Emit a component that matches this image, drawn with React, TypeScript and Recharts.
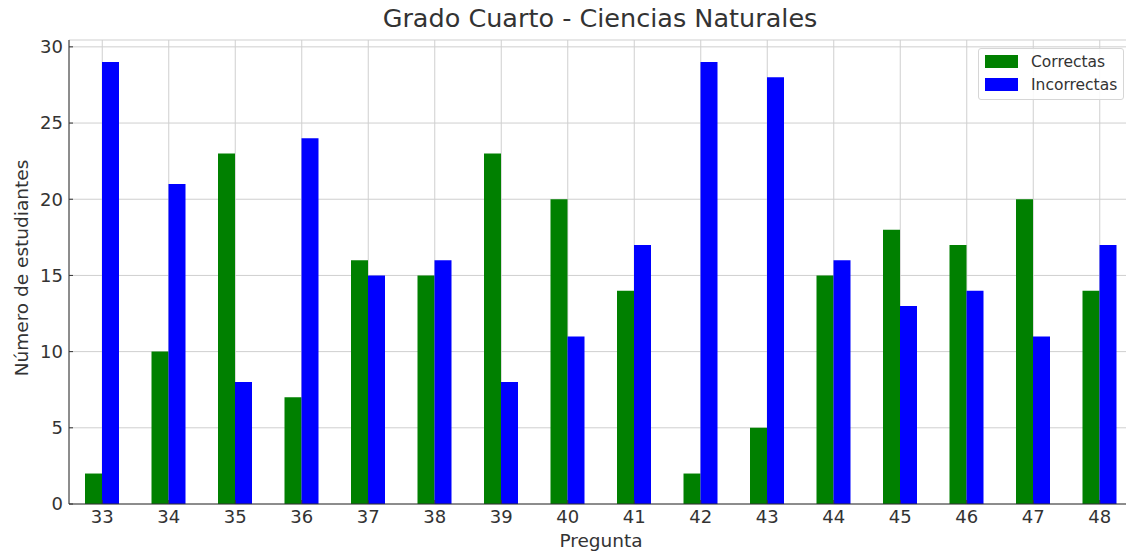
import React from "react";
import {
  BarChart,
  Bar,
  XAxis,
  YAxis,
  CartesianGrid,
} from "recharts";

const preguntas = ["33", "34", "35", "36", "37", "38", "39", "40", "41", "42", "43", "44", "45", "46", "47", "48"];
const correctas = [2, 10, 23, 7, 16, 15, 23, 20, 14, 2, 5, 15, 18, 17, 20, 14];
const incorrectas = [29, 21, 8, 24, 15, 16, 8, 11, 17, 29, 28, 16, 13, 14, 11, 17];
const yTicks = [0, 5, 10, 15, 20, 25, 30];

const COLORS = {
  correctas: "#008000",
  incorrectas: "#0000ff",
  text: "#333333",
  grid: "#cfcfcf",
};

const FONT = "'DejaVu Sans', sans-serif";

const data = preguntas.map((p, i) => ({
  pregunta: p,
  correctas: correctas[i],
  incorrectas: incorrectas[i],
}));

// legend drawn as plain html so it does not steal plot space
function LegendBox() {
  const items = [
    { name: "Correctas", color: COLORS.correctas },
    { name: "Incorrectas", color: COLORS.incorrectas },
  ];
  return (
    <div
      style={{
        position: "absolute",
        top: 48,
        left: 978,
        width: 146,
        height: 52,
        boxSizing: "border-box",
        background: "rgba(255,255,255,0.85)",
        border: "1px solid #d6d6d6",
        borderRadius: 3,
        padding: "1px 0 0 6px",
        fontFamily: FONT,
        fontSize: 15.5,
        color: COLORS.text,
      }}
    >
      {items.map((it) => (
        <div key={it.name} style={{ display: "flex", alignItems: "center", height: 23 }}>
          <span style={{ width: 33, height: 13, background: it.color, display: "inline-block" }} />
          <span style={{ marginLeft: 13, whiteSpace: "nowrap" }}>{it.name}</span>
        </div>
      ))}
    </div>
  );
}

export default function App() {
  return (
    <div
      style={{
        position: "absolute",
        left: 0,
        top: 0,
        width: 1126,
        height: 552,
        overflow: "hidden",
        background: "#fff",
      }}
    >
      <span
        style={{
          position: "absolute",
          top: 3,
          left: 600,
          transform: "translateX(-50%)",
          whiteSpace: "nowrap",
          fontFamily: FONT,
          fontSize: 25.5,
          color: COLORS.text,
        }}
      >
        Grado Cuarto - Ciencias Naturales
      </span>
      <BarChart
        width={1133}
        height={552}
        data={data}
        margin={{ top: 40, right: 0, left: 0, bottom: 0 }}
        barGap={0}
        barSize={17}
        style={{ fontFamily: FONT }}
      >
        <CartesianGrid stroke={COLORS.grid} strokeWidth={1} />
        <XAxis
          dataKey="pregunta"
          height={48}
          stroke={COLORS.text}
          tickSize={-4}
          tickMargin={10}
          tick={{ fill: COLORS.text, fontSize: 18 }}
          label={{
            value: "Pregunta",
            position: "insideBottom",
            offset: 5,
            fill: COLORS.text,
            fontSize: 18.5,
          }}
        />
        <YAxis
          width={69}
          domain={[0, 30.45]}
          ticks={yTicks}
          allowDataOverflow
          stroke={COLORS.text}
          tickSize={-4}
          tickMargin={10}
          tick={{ fill: COLORS.text, fontSize: 18 }}
          label={{
            content: (props: any) => {
              const vb = props.viewBox || { x: 0, y: 0, width: 69, height: 464 };
              const cx = 21;
              const cy = vb.y + vb.height / 2 - 4;
              return (
                <text
                  x={cx}
                  y={cy}
                  transform={`rotate(-90 ${cx} ${cy})`}
                  textAnchor="middle"
                  dominantBaseline="central"
                  fill={COLORS.text}
                  fontSize={18.5}
                  fontFamily={FONT}
                >
                  Número de estudiantes
                </text>
              );
            },
          }}
        />
        <Bar
          name="Correctas"
          dataKey="correctas"
          fill={COLORS.correctas}
          isAnimationActive={false}
        />
        <Bar
          name="Incorrectas"
          dataKey="incorrectas"
          fill={COLORS.incorrectas}
          isAnimationActive={false}
        />
      </BarChart>
      <LegendBox />
    </div>
  );
}
